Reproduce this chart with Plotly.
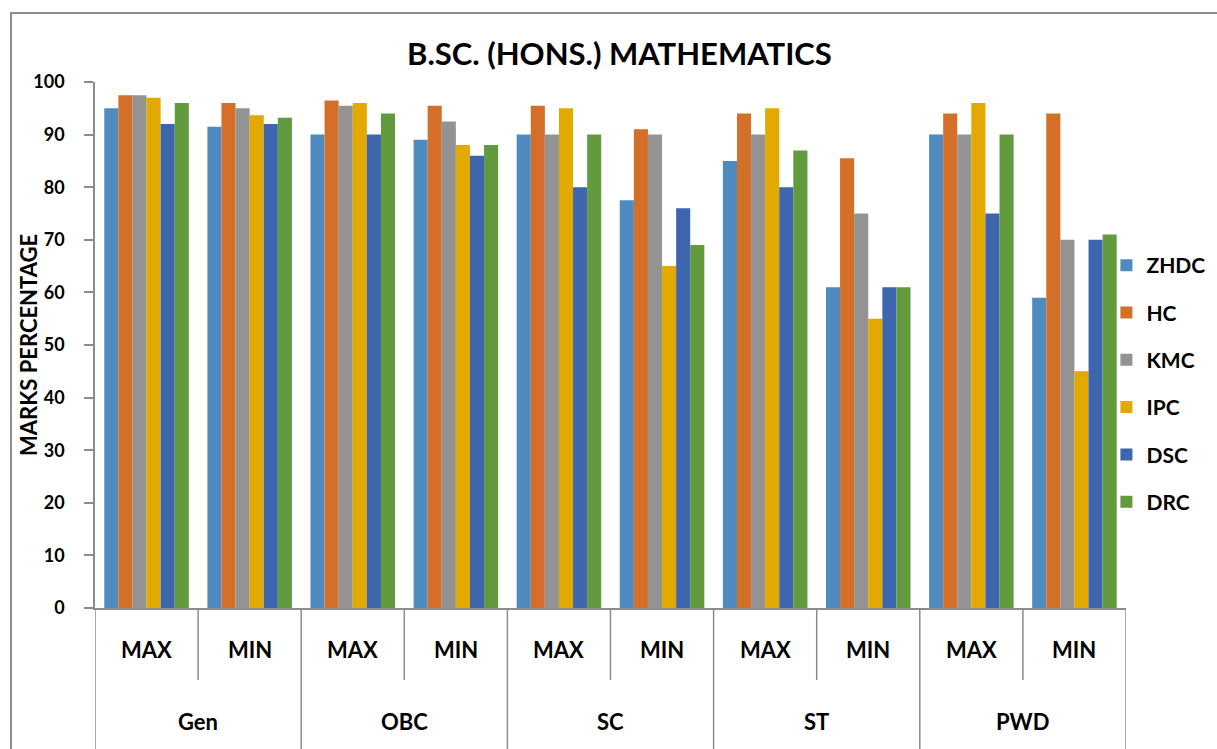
import plotly.graph_objects as go

groups = ["Gen", "OBC", "SC", "ST", "PWD"]
levels = ["MAX", "MIN"]
colleges = ["ZHDC", "HC", "KMC", "IPC", "DSC", "DRC"]
colors = ["#4F8BBF", "#D46F29", "#939393", "#E2A900", "#3D66AE", "#629A3E"]

# values per college, in order Gen MAX, Gen MIN, OBC MAX, OBC MIN, SC MAX, SC MIN, ST MAX, ST MIN, PWD MAX, PWD MIN
ZHDC = [95, 91.5, 90, 89, 90, 77.5, 85, 61, 90, 59]
HC = [97.5, 96, 96.5, 95.5, 95.5, 91, 94, 85.5, 94, 94]
KMC = [97.5, 95, 95.5, 92.5, 90, 90, 90, 75, 90, 70]
IPC = [97, 93.7, 96, 88, 95, 65, 95, 55, 96, 45]
DSC = [92, 92, 90, 86, 80, 76, 80, 61, 75, 70]
DRC = [96, 93.2, 94, 88, 90, 69, 87, 61, 90, 71]
series = [ZHDC, HC, KMC, IPC, DSC, DRC]

cats = [f"{g} {l}" for g in groups for l in levels]

FONT = "Lato"
fig = go.Figure()
for name, vals, col in zip(colleges, series, colors):
    fig.add_trace(go.Bar(x=cats, y=vals, name=f"<b>{name}</b>", marker_color=col,
                         marker_line_width=0, legendgroup=name))

shapes = []
annotations = []
gray = "#8C8C8C"
# category labels and dividers
for gi, g in enumerate(groups):
    for li, l in enumerate(levels):
        idx = gi * 2 + li
        annotations.append(dict(x=idx, y=-0.078, xref="x", yref="paper", text=f"<b>{l}</b>",
                                showarrow=False, font=dict(family=FONT, size=22, color="black"),
                                xanchor="center", yanchor="middle"))
    annotations.append(dict(x=gi * 2 + 0.5, y=-0.215, xref="x", yref="paper", text=f"<b>{g}</b>",
                            showarrow=False, font=dict(family=FONT, size=22, color="black"),
                            xanchor="center", yanchor="middle"))
    shapes.append(dict(type="line", xref="x", yref="paper", x0=gi * 2 + 0.5, x1=gi * 2 + 0.5,
                       y0=0, y1=-0.137, line=dict(color=gray, width=1.5)))
for b in range(len(groups) + 1):
    xb = b * 2 - 0.5
    shapes.append(dict(type="line", xref="x", yref="paper", x0=xb, x1=xb,
                       y0=0, y1=-0.32, line=dict(color=gray, width=1.5)))

# outer chart border
shapes.append(dict(type="rect", xref="paper", yref="paper", x0=-0.0815, x1=1.2,
                   y0=-0.4, y1=1.131, line=dict(color="#8E8E8E", width=2), layer="below"))

annotations.append(dict(x=-0.065, y=0.5, xref="paper", yref="paper", text="<b>MARKS PERCENTAGE</b>",
                        textangle=-90, showarrow=False,
                        font=dict(family=FONT, size=22, color="black", weight="bold"),
                        xanchor="center", yanchor="middle"))

fig.update_layout(
    width=1217, height=749,
    margin=dict(l=95, r=91, t=82, b=141, autoexpand=False),
    paper_bgcolor="white", plot_bgcolor="white",
    barmode="group", bargap=0.18, bargroupgap=0,
    title=dict(text="<b>B.SC. (HONS.) MATHEMATICS</b>", x=0.509, xref="container", xanchor="center",
               y=0.928, yref="container", yanchor="middle",
               font=dict(family=FONT, size=31, color="black")),
    font=dict(family=FONT, color="black"),
    xaxis=dict(showticklabels=False, ticks="", showgrid=False, zeroline=False,
               showline=True, linecolor=gray, linewidth=2, range=[-0.5, 9.5]),
    yaxis=dict(range=[0, 100], dtick=10, showgrid=False, zeroline=False,
               showline=True, linecolor=gray, linewidth=1.5,
               ticks="outside", ticklen=9, tickcolor=gray, tickwidth=1.5,
               ticklabelstandoff=16,
               tickfont=dict(family=FONT, size=18, color="black", weight="bold")),
    legend=dict(x=0.981, xanchor="left", y=0.69, yanchor="top", tracegroupgap=17,
                font=dict(family=FONT, size=21, color="black"), bgcolor="rgba(0,0,0,0)"),
    shapes=shapes, annotations=annotations,
)

fig.write_html("out.html", config={"displayModeBar": False},
               post_script="document.body.style.margin='0';")
